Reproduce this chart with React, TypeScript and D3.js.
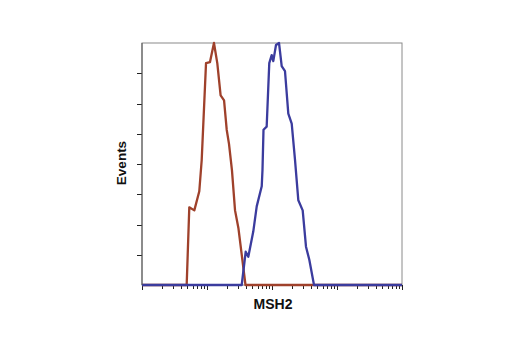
import React from "react";
import * as d3 from "d3";

// Isotype control (red) histogram: [fluorescence, events]
const redX = [1, 4.87, 5.34, 6.38, 7.61, 8.29, 9.66, 11.1, 12.8, 14.4, 16.2, 18.3, 20.1, 21.8, 24.2, 27.0, 30.5, 39.1, 10000];
const redY = [0, 0, 77, 74, 93, 124, 220, 221, 240, 220, 188, 183, 154, 140, 114, 74, 56, 0, 0];

// MSH2 (blue) histogram
const blueX = [1, 34.2, 39.4, 43.2, 51.5, 58.2, 69.5, 71.4, 74.0, 82.8, 90.8, 98.9, 104.7, 115.2, 128.2, 141.0, 158.5, 178.2, 201.0, 225.9, 254.1, 296.6, 333.4, 375.0, 442.9, 10000];
const blueY = [0, 0, 33, 28, 53, 78, 98, 114, 154, 157, 220, 228, 222, 238, 240, 217, 212, 170, 160, 124, 84, 74, 38, 25, 0, 0];

const yTicks = [0, 30, 60, 90, 120, 150, 180, 210, 240];
const xMajor = [1, 10, 100, 1000, 10000];

const xLabel = "MSH2";
const yLabel = "Events";

export default function App() {
  const left = 142, right = 402, top = 43, bottom = 285;
  const x = d3.scaleLog().domain([1, 10000]).range([left, right]);
  const y = d3.scaleLinear().domain([0, 240]).range([bottom, top]);

  const line = d3
    .line<[number, number]>()
    .x((d) => x(d[0]))
    .y((d) => y(d[1]));

  const redPts = redX.map((v, i) => [v, redY[i]] as [number, number]);
  const bluePts = blueX.map((v, i) => [v, blueY[i]] as [number, number]);

  const minor: number[] = [];
  for (let k = 0; k < 4; k++) {
    for (let m = 2; m <= 9; m++) minor.push(m * Math.pow(10, k));
  }

  const font = "'Liberation Sans', Arial, sans-serif";

  return (
    <svg width={520} height={350} style={{ position: "absolute", left: 0, top: 0, background: "#fff" }}>
      <rect x={left} y={top} width={right - left} height={bottom - top} fill="none" stroke="#8a8a8a" strokeWidth={1} />
      {yTicks.slice(1, -1).map((t) => (
        <line key={"y" + t} x1={left - 5} x2={left} y1={Math.round(y(t)) + 0.5} y2={Math.round(y(t)) + 0.5} stroke="#222" strokeWidth={1} />
      ))}
      {xMajor.map((t) => (
        <line key={"M" + t} x1={Math.round(x(t)) + 0.5} x2={Math.round(x(t)) + 0.5} y1={bottom} y2={bottom + 5} stroke="#222" strokeWidth={1} />
      ))}
      {minor.map((t) => (
        <line key={"m" + t} x1={Math.round(x(t)) + 0.5} x2={Math.round(x(t)) + 0.5} y1={bottom} y2={bottom + 4} stroke="#222" strokeWidth={1} />
      ))}
      <path d={line(redPts) || ""} fill="none" stroke="#9f412b" strokeWidth={2.3} strokeLinejoin="round" />
      <path d={line(bluePts) || ""} fill="none" stroke="#3b3c9e" strokeWidth={2.3} strokeLinejoin="round" />
      <line x1={left} x2={left} y1={top} y2={bottom} stroke="#555" strokeWidth={1} />
      <text x={273} y={309} textAnchor="middle" fontFamily={font} fontWeight="bold" fontSize={14} fill="#111">
        {xLabel}
      </text>
      <text transform={`translate(126,163) rotate(-90)`} textAnchor="middle" fontFamily={font} fontWeight="bold" fontSize={13.5} fill="#111">
        {yLabel}
      </text>
    </svg>
  );
}
